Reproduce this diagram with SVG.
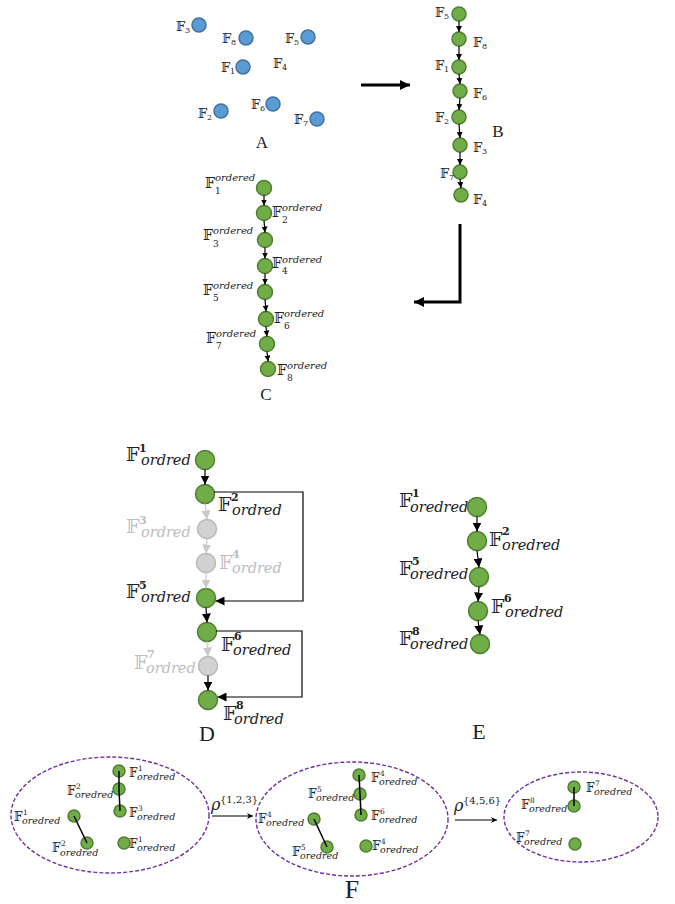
<svg xmlns="http://www.w3.org/2000/svg" width="675" height="904" viewBox="0 0 675 904">
<defs>
<style>
.bl{fill:#5B9BD5;stroke:#41719C;stroke-width:1.5}
.gn{fill:#70AD47;stroke:#507E32;stroke-width:1.5}
.gy{fill:#D2D2D2;stroke:#B8B8B8;stroke-width:1.5}
text{fill:#222}
.bb{font-family:"DejaVu Serif","DejaVu Sans",serif}
.it{font-family:"DejaVu Serif",serif;font-style:italic}
.nm{font-family:"DejaVu Serif",serif;font-style:normal}
.g text{fill:#BDBDBD}
.cap{font-family:"Liberation Serif","Times New Roman",serif;text-anchor:middle}
.s1 .bb{font-size:13px}.s1 .nm{font-size:8px}
.s3 .bb{font-size:14px}.s3 .it{font-size:10px}.s3 .nm{font-size:9px}
.s4 .bb{font-size:19px}.s4 .it{font-size:14.5px}.s4 .nm{font-size:11px;font-weight:bold}
.s5 .bb{font-size:12px}.s5 .it{font-size:9.5px}.s5 .nm{font-size:7.5px}
.s5 .rho{font-size:16px}.s5 .rsup{font-size:10px}
.ar{stroke:#000;stroke-width:1.2;fill:none}
.arg{stroke:#C8C8C8;stroke-width:1.2;fill:none}
.thick{stroke:#000;stroke-width:3;fill:none}
.el{fill:none;stroke:#7030A0;stroke-width:1.4;stroke-dasharray:4 2}
.lk{stroke:#000;stroke-width:1.5}
</style>
<marker id="m6" viewBox="0 0 10 10" refX="10" refY="5" markerWidth="6" markerHeight="6" orient="auto" markerUnits="userSpaceOnUse"><path d="M0,0L10,5L0,10z" fill="#000"/></marker>
<marker id="m9" viewBox="0 0 10 10" refX="10" refY="5" markerWidth="9" markerHeight="9" orient="auto" markerUnits="userSpaceOnUse"><path d="M0,0L10,5L0,10z" fill="#000"/></marker>
<marker id="m9g" viewBox="0 0 10 10" refX="10" refY="5" markerWidth="9" markerHeight="9" orient="auto" markerUnits="userSpaceOnUse"><path d="M0,0L10,5L0,10z" fill="#C8C8C8"/></marker>
<marker id="mB" viewBox="0 0 10 10" refX="10" refY="5" markerWidth="11" markerHeight="10" orient="auto" markerUnits="userSpaceOnUse"><path d="M0,0L10,5L0,10z" fill="#000"/></marker>
<marker id="mF" viewBox="0 0 10 10" refX="10" refY="5" markerWidth="7" markerHeight="6" orient="auto" markerUnits="userSpaceOnUse"><path d="M0,0L10,5L0,10L3,5z" fill="#000"/></marker>
</defs>
<rect width="675" height="904" fill="#fff"/>

<!-- Panel A -->
<g id="panelA" class="s1">
<g id="a-f3"><circle class="bl" cx="199" cy="25" r="7"/><text x="176" y="31"><tspan class="bb">𝔽</tspan><tspan class="nm" x="185" y="33">3</tspan></text></g>
<g id="a-f8"><circle class="bl" cx="246" cy="38" r="7"/><text x="222" y="43"><tspan class="bb">𝔽</tspan><tspan class="nm" x="231" y="45">8</tspan></text></g>
<g id="a-f5"><circle class="bl" cx="308" cy="37" r="7"/><text x="285" y="43"><tspan class="bb">𝔽</tspan><tspan class="nm" x="294" y="45">5</tspan></text></g>
<g id="a-f1"><circle class="bl" cx="243" cy="67" r="7"/><text x="221" y="72"><tspan class="bb">𝔽</tspan><tspan class="nm" x="230" y="74">1</tspan></text></g>
<g id="a-f4"><text x="273" y="68"><tspan class="bb">𝔽</tspan><tspan class="nm" x="282" y="70">4</tspan></text></g>
<g id="a-f2"><circle class="bl" cx="221" cy="111" r="7"/><text x="198" y="118"><tspan class="bb">𝔽</tspan><tspan class="nm" x="207" y="120">2</tspan></text></g>
<g id="a-f6"><circle class="bl" cx="273" cy="104" r="7"/><text x="251" y="109"><tspan class="bb">𝔽</tspan><tspan class="nm" x="260" y="111">6</tspan></text></g>
<g id="a-f7"><circle class="bl" cx="317" cy="119" r="7"/><text x="294" y="124"><tspan class="bb">𝔽</tspan><tspan class="nm" x="303" y="126">7</tspan></text></g>
<text class="cap" x="262" y="148" font-size="17">A</text>
</g>

<!-- Panel B -->
<g id="panelB" class="s1">
<g id="b-f5"><circle class="gn" cx="459" cy="14" r="7"/><text x="435" y="17"><tspan class="bb">𝔽</tspan><tspan class="nm" x="444" y="19">5</tspan></text></g>
<g id="b-f8"><circle class="gn" cx="459" cy="39" r="7"/><text x="473" y="47"><tspan class="bb">𝔽</tspan><tspan class="nm" x="482" y="49">8</tspan></text></g>
<g id="b-f1"><circle class="gn" cx="459" cy="67" r="7"/><text x="435" y="70"><tspan class="bb">𝔽</tspan><tspan class="nm" x="444" y="72">1</tspan></text></g>
<g id="b-f6"><circle class="gn" cx="460" cy="91" r="7"/><text x="473" y="98"><tspan class="bb">𝔽</tspan><tspan class="nm" x="482" y="100">6</tspan></text></g>
<g id="b-f2"><circle class="gn" cx="459" cy="117" r="7"/><text x="435" y="122"><tspan class="bb">𝔽</tspan><tspan class="nm" x="444" y="124">2</tspan></text></g>
<g id="b-f3"><circle class="gn" cx="460" cy="145" r="7"/><text x="473" y="152"><tspan class="bb">𝔽</tspan><tspan class="nm" x="482" y="154">3</tspan></text></g>
<g id="b-f7"><circle class="gn" cx="460" cy="172" r="7"/><text x="440" y="178"><tspan class="bb">𝔽</tspan><tspan class="nm" x="449" y="180">7</tspan></text></g>
<g id="b-f4"><circle class="gn" cx="461" cy="195" r="7"/><text x="473" y="204"><tspan class="bb">𝔽</tspan><tspan class="nm" x="482" y="206">4</tspan></text></g>
<text class="cap" x="498" y="137" font-size="17">B</text>
</g>

<!-- Panel C -->
<g id="panelC" class="s3">
<g id="c1"><circle class="gn" cx="264" cy="188" r="7.5"/><text x="205" y="188"><tspan class="bb">𝔽</tspan><tspan class="it" x="215" y="181">ordered</tspan><tspan class="nm" x="215" y="194">1</tspan></text></g>
<g id="c2"><circle class="gn" cx="264" cy="213" r="7.5"/><text x="272" y="217"><tspan class="bb">𝔽</tspan><tspan class="it" x="282" y="211">ordered</tspan><tspan class="nm" x="282" y="223">2</tspan></text></g>
<g id="c3"><circle class="gn" cx="265" cy="240" r="7.5"/><text x="203" y="240"><tspan class="bb">𝔽</tspan><tspan class="it" x="213" y="234">ordered</tspan><tspan class="nm" x="213" y="247">3</tspan></text></g>
<g id="c4"><circle class="gn" cx="265" cy="266" r="7.5"/><text x="272" y="268"><tspan class="bb">𝔽</tspan><tspan class="it" x="282" y="263">ordered</tspan><tspan class="nm" x="282" y="274">4</tspan></text></g>
<g id="c5"><circle class="gn" cx="265" cy="292" r="7.5"/><text x="203" y="295"><tspan class="bb">𝔽</tspan><tspan class="it" x="213" y="289">ordered</tspan><tspan class="nm" x="213" y="301">5</tspan></text></g>
<g id="c6"><circle class="gn" cx="266" cy="319" r="7.5"/><text x="274" y="323"><tspan class="bb">𝔽</tspan><tspan class="it" x="284" y="317">ordered</tspan><tspan class="nm" x="284" y="329">6</tspan></text></g>
<g id="c7"><circle class="gn" cx="267" cy="344" r="7.5"/><text x="206" y="343"><tspan class="bb">𝔽</tspan><tspan class="it" x="216" y="337">ordered</tspan><tspan class="nm" x="216" y="349">7</tspan></text></g>
<g id="c8"><circle class="gn" cx="268" cy="369" r="7.5"/><text x="277" y="375"><tspan class="bb">𝔽</tspan><tspan class="it" x="287" y="369">ordered</tspan><tspan class="nm" x="287" y="381">8</tspan></text></g>
<text class="cap" x="266" y="400" font-size="17">C</text>
</g>

<!-- Panel D -->
<g id="panelD" class="s4">
<g id="d1"><circle class="gn" cx="205" cy="460" r="9.5"/><text x="126" y="461"><tspan class="bb">𝔽</tspan><tspan class="nm" x="139" y="452">1</tspan><tspan class="it" x="141" y="465">ordred</tspan></text></g>
<g id="d2"><circle class="gn" cx="205" cy="494" r="9.5"/><text x="218" y="511"><tspan class="bb">𝔽</tspan><tspan class="nm" x="231" y="501">2</tspan><tspan class="it" x="232" y="515">ordred</tspan></text></g>
<g id="d3" class="g"><circle class="gy" cx="207" cy="529" r="9.5"/><text x="126" y="533"><tspan class="bb">𝔽</tspan><tspan class="nm" x="139" y="524">3</tspan><tspan class="it" x="141" y="537">ordred</tspan></text></g>
<g id="d4" class="g"><circle class="gy" cx="206" cy="563" r="9.5"/><text x="219" y="569"><tspan class="bb">𝔽</tspan><tspan class="nm" x="232" y="558">4</tspan><tspan class="it" x="232" y="573">ordred</tspan></text></g>
<g id="d5"><circle class="gn" cx="206" cy="598" r="9.5"/><text x="126" y="598"><tspan class="bb">𝔽</tspan><tspan class="nm" x="139" y="589">5</tspan><tspan class="it" x="141" y="602">ordred</tspan></text></g>
<g id="d6"><circle class="gn" cx="207" cy="632" r="9.5"/><text x="221" y="651"><tspan class="bb">𝔽</tspan><tspan class="nm" x="234" y="640">6</tspan><tspan class="it" x="233" y="655">oredred</tspan></text></g>
<g id="d7" class="g"><circle class="gy" cx="208" cy="666" r="9.5"/><text x="134" y="669"><tspan class="bb">𝔽</tspan><tspan class="nm" x="147" y="658">7</tspan><tspan class="it" x="146" y="673">ordred</tspan></text></g>
<g id="d8"><circle class="gn" cx="208" cy="700" r="9.5"/><text x="223" y="720"><tspan class="bb">𝔽</tspan><tspan class="nm" x="236" y="709">8</tspan><tspan class="it" x="234" y="724">ordred</tspan></text></g>
<text class="cap" x="207" y="741" font-size="22">D</text>
</g>

<!-- Panel E -->
<g id="panelE" class="s4">
<g id="e1"><circle class="gn" cx="477" cy="507" r="9.5"/><text x="399" y="507"><tspan class="bb">𝔽</tspan><tspan class="nm" x="412" y="497">1</tspan><tspan class="it" x="410" y="512">oredred</tspan></text></g>
<g id="e2"><circle class="gn" cx="477" cy="541" r="9.5"/><text x="489" y="546"><tspan class="bb">𝔽</tspan><tspan class="nm" x="502" y="535">2</tspan><tspan class="it" x="502" y="550">oredred</tspan></text></g>
<g id="e3"><circle class="gn" cx="479" cy="577" r="9.5"/><text x="399" y="575"><tspan class="bb">𝔽</tspan><tspan class="nm" x="412" y="565">5</tspan><tspan class="it" x="410" y="579">oredred</tspan></text></g>
<g id="e4"><circle class="gn" cx="478" cy="611" r="9.5"/><text x="491" y="613"><tspan class="bb">𝔽</tspan><tspan class="nm" x="504" y="602">6</tspan><tspan class="it" x="505" y="617">oredred</tspan></text></g>
<g id="e5"><circle class="gn" cx="480" cy="644" r="9.5"/><text x="399" y="645"><tspan class="bb">𝔽</tspan><tspan class="nm" x="412" y="635">8</tspan><tspan class="it" x="410" y="649">oredred</tspan></text></g>
<text class="cap" x="479" y="739" font-size="22">E</text>
</g>

<!-- Panel F -->
<g id="panelF" class="s5">
<ellipse class="el" cx="110" cy="815" rx="99" ry="58"/>
<ellipse class="el" cx="352" cy="819" rx="96" ry="57"/>
<ellipse class="el" cx="581" cy="817" rx="77" ry="45"/>
<g id="f1-n1"><circle class="gn" cx="119" cy="771" r="6"/><text x="129" y="777"><tspan class="bb">𝔽</tspan><tspan class="nm" x="138" y="771">1</tspan><tspan class="it" x="137" y="780">oredred</tspan></text></g>
<g id="f1-n2"><circle class="gn" cx="119" cy="789" r="6"/><text x="67" y="795"><tspan class="bb">𝔽</tspan><tspan class="nm" x="76" y="789">2</tspan><tspan class="it" x="75" y="798">oredred</tspan></text></g>
<g id="f1-n3"><circle class="gn" cx="120" cy="811" r="6"/><text x="129" y="817"><tspan class="bb">𝔽</tspan><tspan class="nm" x="138" y="811">3</tspan><tspan class="it" x="137" y="820">oredred</tspan></text></g>
<g id="f1-n4"><circle class="gn" cx="74" cy="816" r="6"/><text x="14" y="821"><tspan class="bb">𝔽</tspan><tspan class="nm" x="23" y="815">1</tspan><tspan class="it" x="22" y="824">oredred</tspan></text></g>
<g id="f1-n5"><circle class="gn" cx="87" cy="843" r="6"/><text x="52" y="852"><tspan class="bb">𝔽</tspan><tspan class="nm" x="61" y="846">2</tspan><tspan class="it" x="60" y="856">oredred</tspan></text></g>
<g id="f1-n6"><circle class="gn" cx="124" cy="843" r="6"/><text x="129" y="848"><tspan class="bb">𝔽</tspan><tspan class="nm" x="138" y="842">1</tspan><tspan class="it" x="137" y="851">oredred</tspan></text></g>

<g id="f2-n1"><circle class="gn" cx="359" cy="775" r="6"/><text x="371" y="782"><tspan class="bb">𝔽</tspan><tspan class="nm" x="380" y="776">4</tspan><tspan class="it" x="379" y="785">oredred</tspan></text></g>
<g id="f2-n2"><circle class="gn" cx="360" cy="794" r="6"/><text x="308" y="798"><tspan class="bb">𝔽</tspan><tspan class="nm" x="317" y="792">5</tspan><tspan class="it" x="316" y="801">oredred</tspan></text></g>
<g id="f2-n3"><circle class="gn" cx="361" cy="815" r="6"/><text x="371" y="820"><tspan class="bb">𝔽</tspan><tspan class="nm" x="380" y="814">6</tspan><tspan class="it" x="379" y="823">oredred</tspan></text></g>
<g id="f2-n4"><circle class="gn" cx="314" cy="819" r="6"/><text x="258" y="823"><tspan class="bb">𝔽</tspan><tspan class="nm" x="267" y="817">4</tspan><tspan class="it" x="266" y="826">oredred</tspan></text></g>
<g id="f2-n5"><circle class="gn" cx="327" cy="847" r="6"/><text x="292" y="856"><tspan class="bb">𝔽</tspan><tspan class="nm" x="301" y="850">5</tspan><tspan class="it" x="300" y="859">oredred</tspan></text></g>
<g id="f2-n6"><circle class="gn" cx="366" cy="846" r="6"/><text x="372" y="850"><tspan class="bb">𝔽</tspan><tspan class="nm" x="381" y="844">4</tspan><tspan class="it" x="380" y="853">oredred</tspan></text></g>

<g id="f3-n1"><circle class="gn" cx="574" cy="787" r="6"/><text x="586" y="792"><tspan class="bb">𝔽</tspan><tspan class="nm" x="595" y="786">7</tspan><tspan class="it" x="594" y="795">oredred</tspan></text></g>
<g id="f3-n2"><circle class="gn" cx="574" cy="806" r="6"/><text x="521" y="809"><tspan class="bb">𝔽</tspan><tspan class="nm" x="530" y="803">8</tspan><tspan class="it" x="529" y="812">oredred</tspan></text></g>
<g id="f3-n3"><circle class="gn" cx="575" cy="844" r="6"/><text x="516" y="842"><tspan class="bb">𝔽</tspan><tspan class="nm" x="525" y="836">7</tspan><tspan class="it" x="524" y="845">oredred</tspan></text></g>

<g id="rho1"><text x="211" y="810"><tspan class="it rho">ρ</tspan><tspan class="nm rsup" x="220" y="803">{1,2,3}</tspan></text></g>
<g id="rho2"><text x="454" y="811"><tspan class="it rho">ρ</tspan><tspan class="nm rsup" x="463" y="804">{4,5,6}</tspan></text></g>
<text class="cap" x="352" y="898" font-size="26">F</text>
</g>

<!-- Connectors -->
<g id="connectors">
<line class="thick" x1="361" y1="85" x2="410" y2="85" marker-end="url(#mB)"/>
<path class="thick" d="M460,224 V302 H414" marker-end="url(#mB)"/>
<line class="ar" x1="459" y1="21" x2="459" y2="32" marker-end="url(#m6)"/>
<line class="ar" x1="459" y1="46" x2="459" y2="60" marker-end="url(#m6)"/>
<line class="ar" x1="459" y1="74" x2="460" y2="84" marker-end="url(#m6)"/>
<line class="ar" x1="460" y1="98" x2="459" y2="110" marker-end="url(#m6)"/>
<line class="ar" x1="459" y1="124" x2="460" y2="138" marker-end="url(#m6)"/>
<line class="ar" x1="460" y1="152" x2="460" y2="165" marker-end="url(#m6)"/>
<line class="ar" x1="460" y1="179" x2="461" y2="188" marker-end="url(#m6)"/>
<line class="ar" x1="264" y1="195.5" x2="264" y2="205.5" marker-end="url(#m6)"/>
<line class="ar" x1="264" y1="220.5" x2="265" y2="232.5" marker-end="url(#m6)"/>
<line class="ar" x1="265" y1="247.5" x2="265" y2="258.5" marker-end="url(#m6)"/>
<line class="ar" x1="265" y1="273.5" x2="265" y2="284.5" marker-end="url(#m6)"/>
<line class="ar" x1="265" y1="299.5" x2="266" y2="311.5" marker-end="url(#m6)"/>
<line class="ar" x1="266" y1="326.5" x2="267" y2="336.5" marker-end="url(#m6)"/>
<line class="ar" x1="267" y1="351.5" x2="268" y2="361.5" marker-end="url(#m6)"/>
<line class="ar" x1="205" y1="469.5" x2="205" y2="484.5" marker-end="url(#m9)"/>
<line class="arg" x1="205" y1="503.5" x2="207" y2="519.5" marker-end="url(#m9g)"/>
<line class="arg" x1="207" y1="538.5" x2="206" y2="553.5" marker-end="url(#m9g)"/>
<line class="arg" x1="206" y1="572.5" x2="206" y2="588.5" marker-end="url(#m9g)"/>
<line class="ar" x1="206" y1="607.5" x2="207" y2="622.5" marker-end="url(#m9)"/>
<line class="arg" x1="207" y1="641.5" x2="208" y2="656.5" marker-end="url(#m9g)"/>
<line class="ar" x1="208" y1="675.5" x2="208" y2="690.5" marker-end="url(#m9)"/>
<path class="ar" d="M214,492 H303 V601 H215.5" marker-end="url(#m9)"/>
<path class="ar" d="M216,631 H302 V697 H217.5" marker-end="url(#m9)"/>
<line class="ar" x1="477" y1="516.5" x2="477" y2="531.5" marker-end="url(#m9)"/>
<line class="ar" x1="477" y1="550.5" x2="479" y2="567.5" marker-end="url(#m9)"/>
<line class="ar" x1="479" y1="586.5" x2="478" y2="601.5" marker-end="url(#m9)"/>
<line class="ar" x1="478" y1="620.5" x2="480" y2="634.5" marker-end="url(#m9)"/>
<line class="lk" x1="119" y1="771" x2="119" y2="789"/>
<line class="lk" x1="119" y1="789" x2="120" y2="811"/>
<line class="lk" x1="74" y1="816" x2="87" y2="843"/>
<line class="lk" x1="359" y1="775" x2="360" y2="794"/>
<line class="lk" x1="360" y1="794" x2="361" y2="815"/>
<line class="lk" x1="314" y1="819" x2="327" y2="847"/>
<line class="lk" x1="574" y1="787" x2="574" y2="806"/>
<line class="ar" x1="212" y1="816" x2="253" y2="816" marker-end="url(#mF)"/>
<line class="ar" x1="455" y1="820" x2="497" y2="820" marker-end="url(#mF)"/>
</g>
</svg>
